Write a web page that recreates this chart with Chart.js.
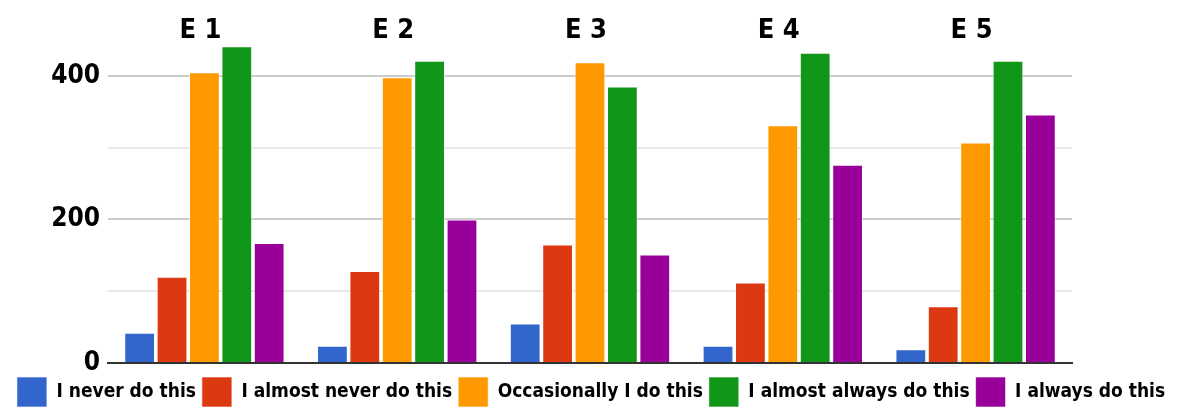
<!DOCTYPE html>
<html>
<head>
<meta charset="utf-8">
<script src="https://cdn.jsdelivr.net/npm/chart.js@4.4.1/dist/chart.umd.min.js"></script>
<style>
  html, body { margin: 0; padding: 0; background: #fff; }
  #wrap { width: 1182px; height: 408px; }
</style>
</head>
<body>
<div id="wrap"><canvas id="chart"></canvas></div>
<script>
const categories = ['E 1', 'E 2', 'E 3', 'E 4', 'E 5'];
const neverDo = [42, 24, 55, 24, 19];
const almostNever = [120, 128, 165, 112, 79];
const occasionally = [405, 398, 419, 331, 307];
const almostAlways = [441, 421, 385, 432, 421];
const alwaysDo = [167, 200, 151, 276, 346];
const yTicks = [0, 200, 400];

const FONT = "'DejaVu Sans Condensed', 'Liberation Sans Narrow', sans-serif";

// group titles drawn above each cluster
const groupTitles = {
  id: 'groupTitles',
  afterDatasetsDraw(chart) {
    const { ctx, scales } = chart;
    ctx.save();
    ctx.font = 'bold 27px ' + FONT;
    ctx.fillStyle = '#000';
    ctx.textAlign = 'center';
    ctx.textBaseline = 'middle';
    categories.forEach((c, i) => {
      ctx.fillText(c, scales.x.getPixelForValue(i) - 4, scales.y.getPixelForValue(463));
    });
    ctx.restore();
  }
};

function ds(label, data, color) {
  return {
    label: label,
    data: data,
    backgroundColor: color,
    borderColor: 'rgba(255,255,255,0.6)',
    borderWidth: 1,
  };
}

new Chart(document.getElementById('chart'), {
  type: 'bar',
  data: {
    labels: categories,
    datasets: [
      ds('I never do this', neverDo, '#3366cc'),
      ds('I almost never do this', almostNever, '#dc3912'),
      ds('Occasionally I do this', occasionally, '#ff9900'),
      ds('I almost always do this', almostAlways, '#109618'),
      ds('I always do this', alwaysDo, '#990099'),
    ],
  },
  options: {
    responsive: true,
    maintainAspectRatio: false,
    animation: false,
    datasets: {
      bar: { categoryPercentage: 0.84, barPercentage: 0.95 },
    },
    layout: { padding: { left: 0, right: 0, top: 4, bottom: -9 } },
    plugins: {
      tooltip: { enabled: false },
      legend: {
        position: 'bottom',
        labels: {
          color: '#000',
          font: { family: FONT, size: 19, weight: 'bold' },
          boxWidth: 30,
          boxHeight: 30,
          padding: 6,
        },
      },
    },
    scales: {
      x: {
        grid: { display: false },
        border: { color: '#333', width: 2 },
        ticks: { display: false },
      },
      y: {
        min: 0,
        max: 500,
        border: { display: false },
        afterFit: (scale) => {
          scale.width = 108;
          scale.paddingTop = 0;
          scale.paddingBottom = 0;
        },
        grid: {
          drawTicks: false,
          color: (c) => (c.tick.value === 500 ? 'rgba(0,0,0,0)' : c.tick.value % 200 === 0 ? '#cccccc' : '#e8e8e8'),
          lineWidth: 2,
        },
        ticks: {
          stepSize: 100,
          padding: 8,
          color: '#000',
          font: { family: FONT, size: 26, weight: 'bold' },
          callback: (v) => (yTicks.includes(v) ? v : ''),
        },
      },
      // empty right-hand axis, only reserves the blank margin
      yRight: {
        position: 'right',
        min: 0,
        max: 500,
        grid: { display: false },
        border: { display: false },
        ticks: { display: false },
        afterFit: (scale) => { scale.width = 110; },
      },
    },
  },
  plugins: [groupTitles],
});
</script>
</body>
</html>
